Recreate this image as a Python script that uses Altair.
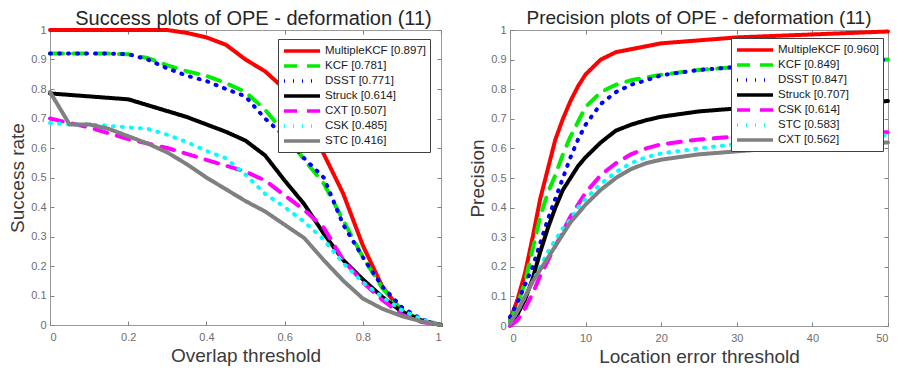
import altair as alt
import pandas as pd

# ---------------- data ----------------
# Success plot: overlap thresholds
overlap = [0.0, 0.05, 0.1, 0.15, 0.2, 0.25, 0.3, 0.35, 0.4, 0.45, 0.5,
           0.55, 0.6, 0.65, 0.7, 0.75, 0.8, 0.85, 0.9, 0.95, 1.0]
success_names = ["MultipleKCF [0.897]", "KCF [0.781]", "DSST [0.771]", "Struck [0.614]",
                 "CXT [0.507]", "CSK [0.485]", "STC [0.416]"]
succ_multiplekcf = [1.0, 1.0, 1.0, 1.0, 1.0, 1.0, 1.0, 0.99, 0.975, 0.95, 0.90,
                    0.86, 0.80, 0.70, 0.58, 0.445, 0.27, 0.13, 0.045, 0.015, 0.0]
succ_kcf = [0.92, 0.92, 0.92, 0.92, 0.918, 0.905, 0.88, 0.86, 0.845, 0.82, 0.79,
            0.73, 0.65, 0.56, 0.48, 0.355, 0.23, 0.125, 0.05, 0.015, 0.0]
succ_dsst = [0.92, 0.92, 0.92, 0.92, 0.918, 0.90, 0.87, 0.845, 0.827, 0.80, 0.775,
             0.70, 0.64, 0.565, 0.50, 0.34, 0.23, 0.13, 0.06, 0.02, 0.0]
succ_struck = [0.785, 0.78, 0.775, 0.77, 0.765, 0.745, 0.725, 0.705, 0.68, 0.655, 0.625,
               0.575, 0.49, 0.41, 0.31, 0.22, 0.155, 0.095, 0.045, 0.015, 0.0]
succ_cxt = [0.70, 0.685, 0.67, 0.65, 0.63, 0.615, 0.60, 0.58, 0.56, 0.54, 0.52,
            0.49, 0.44, 0.39, 0.33, 0.22, 0.145, 0.085, 0.035, 0.01, 0.0]
succ_csk = [0.685, 0.68, 0.68, 0.675, 0.67, 0.665, 0.645, 0.62, 0.59, 0.565, 0.51,
            0.445, 0.40, 0.35, 0.29, 0.21, 0.145, 0.095, 0.05, 0.02, 0.0]
succ_stc = [0.79, 0.68, 0.68, 0.665, 0.64, 0.615, 0.585, 0.545, 0.50, 0.46, 0.42,
            0.385, 0.34, 0.295, 0.22, 0.15, 0.09, 0.055, 0.03, 0.012, 0.0]

# Precision plot: location error thresholds
loc_err = [0, 1, 2, 3, 4, 5, 6, 7, 8, 9, 10, 12, 14, 16, 18, 20, 25, 30, 35, 40, 45, 50]
precision_names = ["MultipleKCF [0.960]", "KCF [0.849]", "DSST [0.847]", "Struck [0.707]",
                   "CSK [0.614]", "STC [0.583]", "CXT [0.562]"]
prec_multiplekcf = [0.02, 0.09, 0.18, 0.30, 0.43, 0.53, 0.63, 0.70, 0.76, 0.81, 0.85,
                    0.90, 0.925, 0.935, 0.945, 0.955, 0.965, 0.975, 0.98, 0.985, 0.99, 0.995]
prec_kcf = [0.02, 0.07, 0.15, 0.26, 0.37, 0.45, 0.51, 0.58, 0.64, 0.69, 0.74,
            0.79, 0.815, 0.83, 0.84, 0.849, 0.865, 0.875, 0.885, 0.89, 0.895, 0.90]
prec_dsst = [0.03, 0.08, 0.14, 0.20, 0.28, 0.36, 0.43, 0.50, 0.57, 0.63, 0.68,
             0.75, 0.79, 0.815, 0.83, 0.847, 0.865, 0.875, 0.885, 0.89, 0.895, 0.90]
prec_struck = [0.01, 0.04, 0.09, 0.16, 0.25, 0.33, 0.40, 0.46, 0.50, 0.54, 0.57,
               0.62, 0.66, 0.68, 0.695, 0.707, 0.725, 0.735, 0.745, 0.75, 0.755, 0.76]
prec_csk = [0.0, 0.02, 0.06, 0.11, 0.17, 0.22, 0.27, 0.32, 0.37, 0.41, 0.45,
            0.51, 0.55, 0.58, 0.60, 0.614, 0.63, 0.64, 0.645, 0.65, 0.652, 0.655]
prec_stc = [0.01, 0.05, 0.10, 0.15, 0.20, 0.25, 0.29, 0.33, 0.36, 0.40, 0.43,
            0.48, 0.52, 0.55, 0.57, 0.583, 0.60, 0.615, 0.625, 0.635, 0.64, 0.645]
prec_cxt = [0.01, 0.05, 0.10, 0.15, 0.19, 0.23, 0.27, 0.31, 0.35, 0.38, 0.41,
            0.46, 0.50, 0.53, 0.55, 0.562, 0.58, 0.59, 0.60, 0.61, 0.615, 0.62]

x_ticks_left = [0, 0.2, 0.4, 0.6, 0.8, 1]
x_ticks_right = [0, 10, 20, 30, 40, 50]
y_ticks = [0, 0.1, 0.2, 0.3, 0.4, 0.5, 0.6, 0.7, 0.8, 0.9, 1]

# ---------------- styles (by legend rank, MATLAB-like) ----------------
colors = ["#ff0000", "#00ee00", "#0000ff", "#000000", "#ff00ff", "#00ffff", "#808080"]
dashes = [[1, 0], [13, 10], [1, 8], [1, 0], [13, 10], [1, 8], [1, 0]]

FONT = "Liberation Sans"


def long_df(xs, names, series):
    rows = []
    for name, ys in zip(names, series):
        for i, (xv, yv) in enumerate(zip(xs, ys)):
            rows.append({"x": xv, "y": yv, "name": name, "i": i})
    return pd.DataFrame(rows)


def panel(df, names, title, tsize, tdx, toff, xtitle, ytitle, xdomain, xticks, xfmt,
          W, H, lx, ly):
    xs = alt.Scale(domain=xdomain, nice=False, zero=False)
    ys = alt.Scale(domain=[0, 1], nice=False)
    leg = alt.Legend(title=None, orient="none", legendX=lx, legendY=ly,
                     strokeColor="#404040", fillColor="white", padding=4,
                     cornerRadius=0, labelFont=FONT, labelFontSize=11.5,
                     labelColor="#1a1a1a", symbolType="M-1,0H5", symbolSize=144,
                     symbolStrokeWidth=3.5, labelOffset=27, rowPadding=0,
                     symbolFillColor="transparent")
    lines = alt.Chart(df).mark_line(strokeWidth=4, strokeCap="round",
                                    strokeJoin="round").encode(
        x=alt.X("x:Q", scale=xs,
                axis=alt.Axis(title=xtitle, values=xticks, format=xfmt, ticks=False,
                              domain=False, grid=False, labelPadding=6,
                              titlePadding=4)),
        y=alt.Y("y:Q", scale=ys,
                axis=alt.Axis(title=ytitle, values=y_ticks, format="~g", ticks=False,
                              domain=False, grid=False, labelPadding=4,
                              titlePadding=3)),
        color=alt.Color("name:N", scale=alt.Scale(domain=names, range=colors),
                        legend=leg),
        strokeDash=alt.StrokeDash("name:N", scale=alt.Scale(domain=names, range=dashes),
                                  legend=leg),
        order="i:Q",
    )
    tick_in_a = alt.Chart(df).mark_line(opacity=0).encode(
        x=alt.X("x:Q", scale=xs,
                axis=alt.Axis(orient="top", offset=-H, values=xticks, labels=False,
                              title=None, domain=False, grid=False, tickSize=4,
                              tickColor="#808080")),
        y=alt.Y("y:Q", scale=ys,
                axis=alt.Axis(orient="right", offset=-W, values=y_ticks, labels=False,
                              title=None, domain=False, grid=False, tickSize=4,
                              tickColor="#808080", minExtent=0)),
        detail="name:N",
    )
    tick_in_b = alt.Chart(df).mark_line(opacity=0).encode(
        x=alt.X("x:Q", scale=xs,
                axis=alt.Axis(orient="bottom", offset=-H, values=xticks, labels=False,
                              title=None, domain=False, grid=False, tickSize=4,
                              tickColor="#808080")),
        y=alt.Y("y:Q", scale=ys,
                axis=alt.Axis(orient="left", offset=-W, values=y_ticks, labels=False,
                              title=None, domain=False, grid=False, tickSize=4,
                              tickColor="#808080", minExtent=0)),
        detail="name:N",
    )
    return alt.layer(lines, tick_in_a, tick_in_b).resolve_axis(
        x="independent", y="independent"
    ).properties(
        width=W, height=H,
        title=alt.Title(title, fontSize=tsize, font=FONT, fontWeight="normal",
                        color="#262626", offset=toff, dx=tdx),
    )


df_left = long_df(overlap, success_names,
                  [succ_multiplekcf, succ_kcf, succ_dsst, succ_struck,
                   succ_cxt, succ_csk, succ_stc])
df_right = long_df(loc_err, precision_names,
                   [prec_multiplekcf, prec_kcf, prec_dsst, prec_struck,
                    prec_csk, prec_stc, prec_cxt])

left = panel(df_left, success_names, "Success plots of OPE - deformation (11)", 20, 8, -5,
             "Overlap threshold", "Success rate", [0, 1], x_ticks_left, "~g",
             391, 295, 228, 9)
right = panel(df_right, precision_names, "Precision plots of OPE - deformation (11)", 19, 0,
              -4, "Location error threshold", "Precision", [0, 50], x_ticks_right, "d",
              378, 296, 221, 8)

chart = alt.hconcat(left, right, spacing=24).resolve_scale(
    color="independent", strokeDash="independent"
).resolve_legend(
    color="independent", strokeDash="independent"
).properties(
    padding=0
).configure(
    font=FONT,
).configure_view(
    stroke="#9a9a9a", strokeWidth=1,
).configure_axis(
    labelFont=FONT, labelFontSize=11, labelColor="#6e6e6e",
    titleFont=FONT, titleFontSize=19, titleFontWeight="normal", titleColor="#3a3a3a",
)

chart.save("out.html", embed_options={"renderer": "svg", "actions": False})
